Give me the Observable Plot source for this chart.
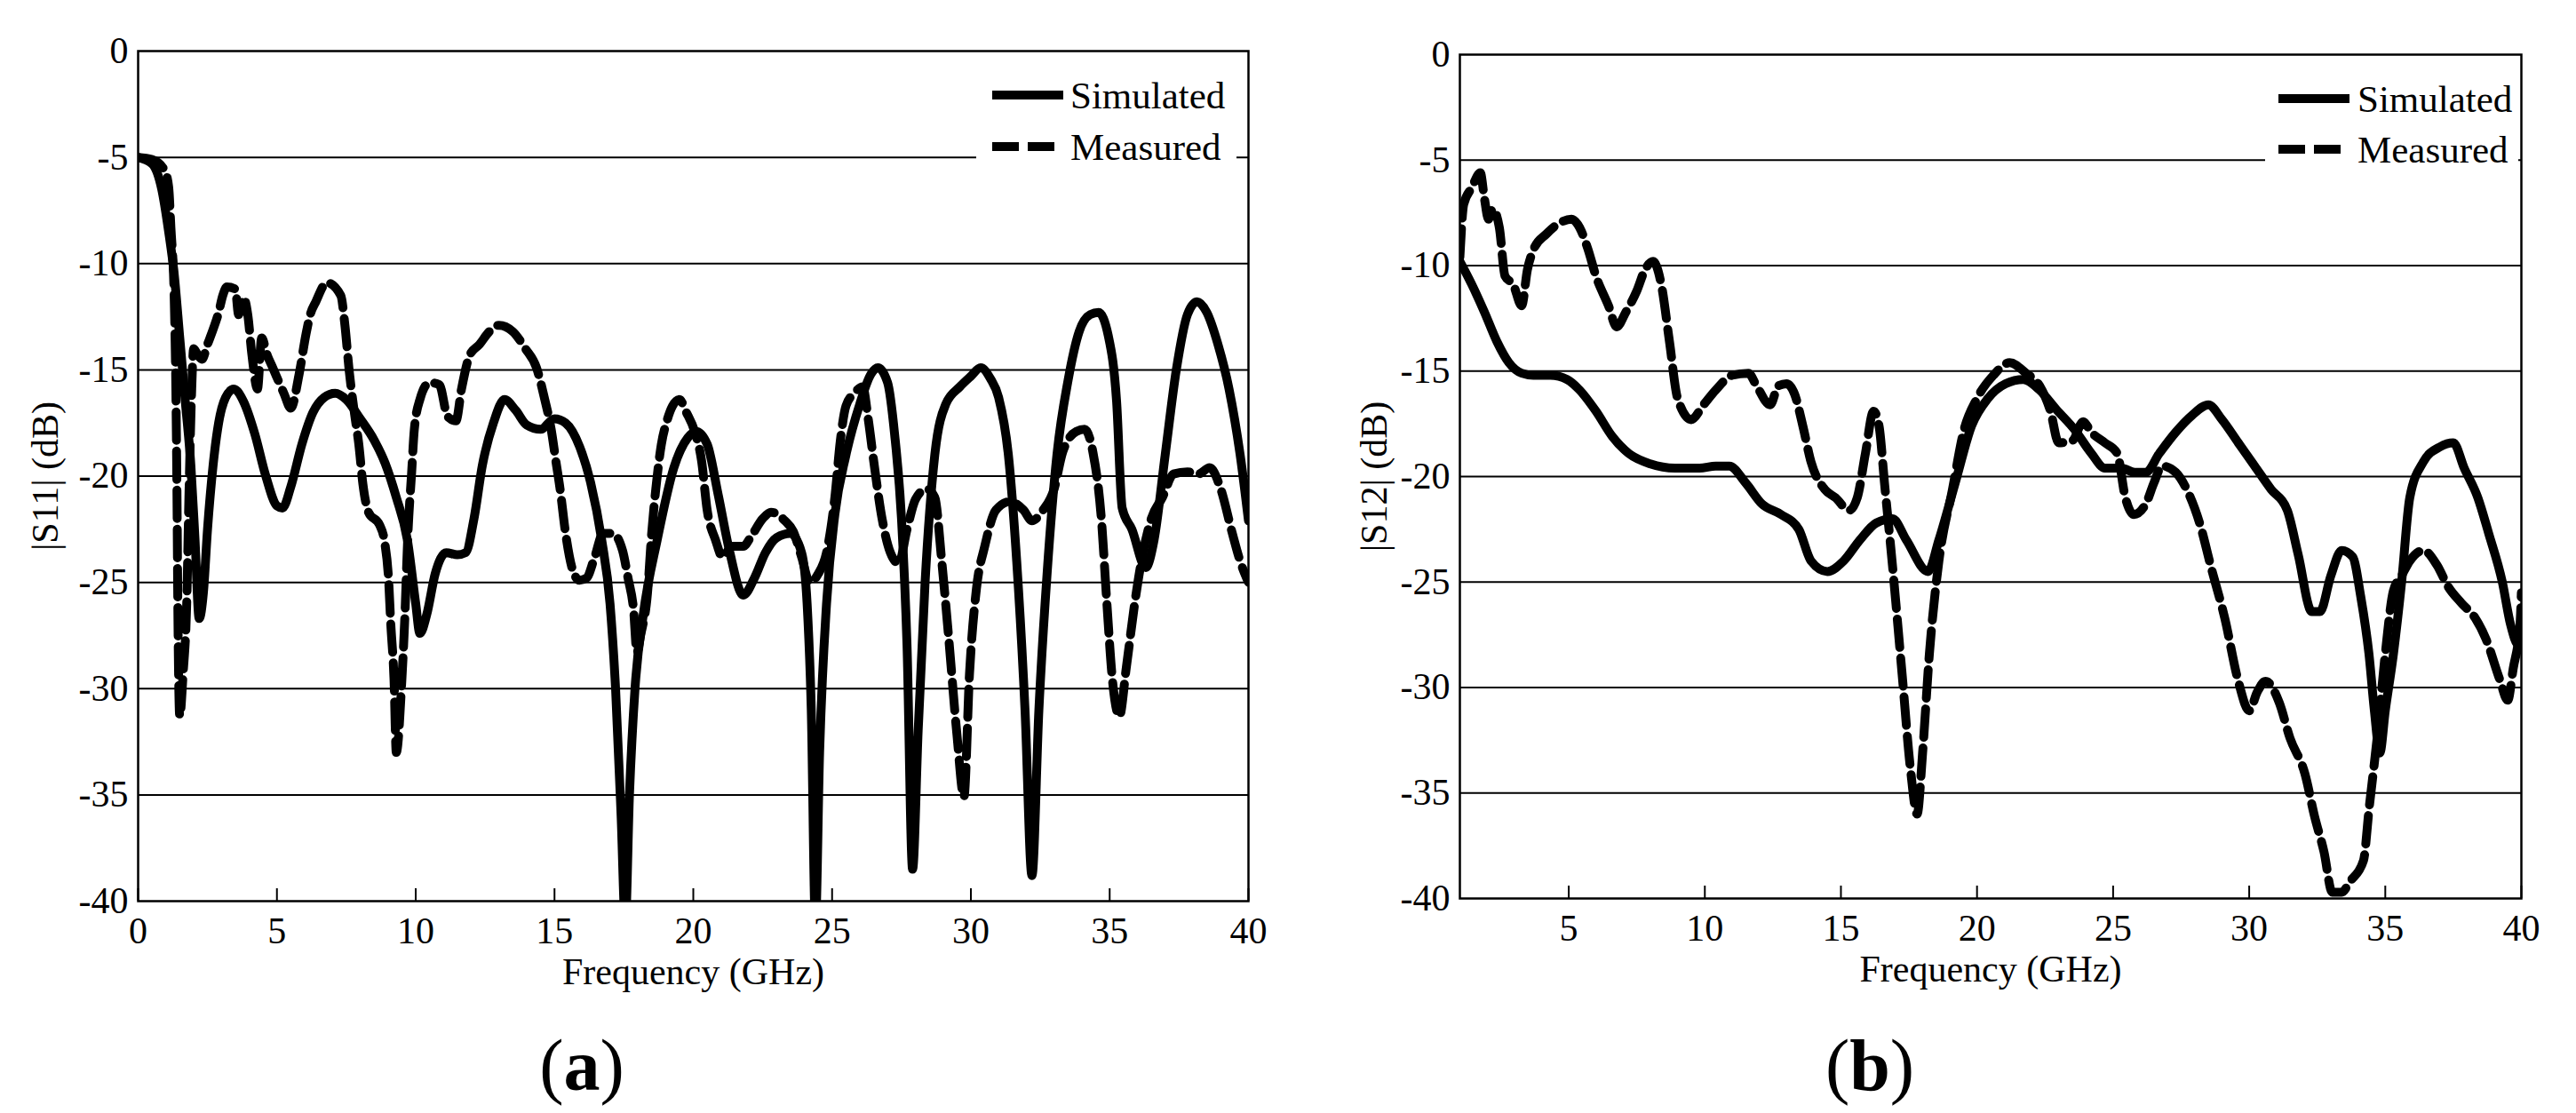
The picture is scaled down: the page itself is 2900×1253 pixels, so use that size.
<!DOCTYPE html>
<html>
<head>
<meta charset="utf-8">
<script src="https://cdn.jsdelivr.net/npm/d3@7"></script>
<script src="https://cdn.jsdelivr.net/npm/@observablehq/plot@0.6"></script>
<style>
  html, body { margin: 0; padding: 0; background: #fff; }
  #root { position: relative; width: 2900px; height: 1253px; overflow: hidden; background: #fff;
          font-family: "Liberation Serif", "Times New Roman", serif; color: #000; }
  #root svg, #root svg text { font-family: "Liberation Serif", "Times New Roman", serif !important; }
  .panel { position: absolute; top: 0; }
  .legend { position: absolute; background: #fff; }
  .legend svg { overflow: visible; }
  .cap { position: absolute; transform: translate(-50%, -50%); font-size: 82px; white-space: nowrap;
         font-family: "Liberation Serif", "Times New Roman", serif; }
</style>
</head>
<body>
<div id="root"></div>
<script>
// ---------- data ----------
const xTicksA = [0, 5, 10, 15, 20, 25, 30, 35, 40];
const xTicksB = [5, 10, 15, 20, 25, 30, 35, 40];
const yTicks = [0, -5, -10, -15, -20, -25, -30, -35, -40];
const gridLevels = [-5, -10, -15, -20, -25, -30, -35];
const seriesNames = ["Simulated", "Measured"];
const panelLabels = ["a", "b"];
const yLabels = ["|S11| (dB)", "|S12| (dB)"];
const xLabel = "Frequency (GHz)";

// (a) |S11| simulated
const s11SimF = [0,0.5,0.85,1.1,1.3,1.5,1.7,1.9,2.05,2.2,2.35,2.5,2.7,2.9,3.15,3.45,3.8,4.2,4.6,5.0,5.2,5.5,5.9,6.3,6.7,7.1,7.5,8.0,8.5,8.9,9.3,9.7,10.0,10.15,10.4,10.7,11.1,11.5,11.8,12.1,12.4,12.8,13.2,13.6,14.0,14.5,15.0,15.4,15.9,16.3,16.7,17.0,17.2,17.4,17.55,17.7,17.9,18.2,18.7,19.3,19.8,20.1,20.5,20.9,21.3,21.8,22.2,22.6,23.0,23.5,23.9,24.1,24.25,24.4,24.55,24.8,25.1,25.5,26.0,26.4,26.65,27.0,27.25,27.5,27.7,27.9,28.1,28.35,28.7,29.1,29.6,30.0,30.35,30.7,31.0,31.35,31.65,31.95,32.2,32.45,32.75,33.1,33.5,33.9,34.3,34.6,34.95,35.25,35.45,35.8,36.3,36.6,37.0,37.4,37.8,38.15,38.5,38.9,39.3,39.7,40];
const s11SimV = [-5,-5.3,-6.5,-8.5,-10.5,-13.5,-16.5,-19.5,-23,-26.7,-25.5,-22.5,-19.5,-17.5,-16.3,-15.9,-16.5,-18.0,-20.0,-21.4,-21.5,-20.5,-18.5,-17.0,-16.3,-16.1,-16.4,-17.3,-18.3,-19.4,-21,-23,-26,-27.4,-26.5,-24.6,-23.6,-23.7,-23.6,-22,-19.5,-17.5,-16.4,-16.9,-17.6,-17.8,-17.3,-17.5,-18.6,-20.3,-23,-26,-30,-36,-41,-35,-30,-26.5,-23,-19.6,-18.2,-17.9,-18.5,-20.9,-23.5,-25.6,-24.8,-23.6,-22.9,-22.7,-23.6,-26,-31,-41,-33,-26,-21.8,-19,-16.6,-15.2,-14.9,-15.6,-18,-22,-28,-38.5,-32,-25,-19,-16.6,-15.8,-15.3,-14.9,-15.4,-16.3,-19,-24,-31,-38.8,-31,-24.5,-19,-15.5,-13.2,-12.4,-12.3,-13.4,-16.5,-21.5,-22.5,-24.3,-23,-19,-15,-12.4,-11.8,-12.3,-13.8,-15.9,-19,-22.1];

// (a) |S11| measured
const s11MeasF = [0,0.5,0.95,1.1,1.18,1.3,1.36,1.4,1.43,1.5,1.62,1.75,1.83,1.92,2.0,2.15,2.3,2.5,2.7,2.9,3.05,3.2,3.5,3.62,3.8,3.95,4.1,4.3,4.45,4.65,4.85,5.25,5.5,5.8,6.05,6.2,6.4,6.8,7.3,7.45,7.6,7.8,7.95,8.1,8.3,8.7,8.88,9.02,9.1,9.22,9.3,9.5,9.6,9.72,9.85,9.95,10.15,10.5,10.85,11.15,11.45,11.65,11.95,12.3,12.65,13.0,13.5,13.95,14.35,14.65,14.88,15.05,15.2,15.4,15.65,15.9,16.15,16.45,16.75,17.1,17.45,17.65,17.85,17.97,18.1,18.35,18.5,18.65,18.85,19.05,19.25,19.5,19.75,20.05,20.3,20.5,20.8,21.05,21.4,21.8,22.1,22.5,22.8,23.3,23.6,23.9,24.2,24.5,24.8,25.1,25.3,25.5,25.8,26.1,26.3,26.5,26.8,27.1,27.4,27.7,28.0,28.4,28.7,28.95,29.2,29.5,29.75,29.95,30.2,30.5,30.9,31.4,31.9,32.2,32.6,33.0,33.3,33.8,34.1,34.4,34.7,34.9,35.1,35.35,35.6,35.9,36.2,36.5,36.9,37.3,37.8,38.2,38.6,39.0,39.4,39.7,40];
const s11MeasV = [-5.0,-5.1,-5.6,-6.4,-8.3,-11.6,-15.9,-20.9,-26,-31.3,-29.3,-26,-21,-16.3,-14.0,-14.3,-14.5,-13.8,-13.1,-12.3,-11.5,-11.1,-11.2,-12.4,-11.6,-12.4,-14.3,-15.9,-13.5,-14.3,-14.9,-16.1,-16.8,-15.2,-13.3,-12.4,-11.8,-10.9,-11.5,-12.9,-15.0,-17.1,-18.5,-20.4,-21.7,-22.3,-23.1,-24.8,-26.9,-29.6,-33.0,-29.6,-26.9,-22.7,-19.9,-17.8,-16.4,-15.6,-15.7,-17.2,-17.4,-15.9,-14.3,-13.8,-13.2,-12.9,-13.2,-14.0,-14.9,-16.4,-17.8,-19.3,-20.6,-22.7,-24.4,-24.9,-24.8,-23.8,-22.7,-22.7,-23.5,-24.8,-26.3,-28.3,-27.5,-25.5,-22.7,-20.6,-18.5,-17.4,-16.7,-16.4,-17.0,-17.9,-19.3,-21.6,-23,-23.8,-23.3,-23.3,-22.8,-22,-21.7,-22.1,-22.6,-23.8,-25,-24.6,-23.6,-21,-18.3,-16.7,-16.1,-15.8,-17.3,-19.3,-22,-23.6,-24.1,-22.5,-21.1,-20.6,-21,-24,-27.6,-32.2,-35.1,-29.3,-25.3,-23.3,-21.6,-21.2,-21.6,-22.1,-21.6,-20.6,-18.9,-17.9,-17.8,-18.9,-22,-26,-29.6,-31.3,-29,-26,-23.6,-22,-21,-19.9,-19.8,-19.9,-19.6,-20.6,-22.6,-24,-25];

// (b) |S12| simulated
const s12SimF = [1.0,1.44,1.9,2.36,2.8,3.27,3.7,4.33,4.94,5.4,6.0,6.6,7.2,8.0,8.9,9.8,10.4,10.9,11.5,12.1,12.8,13.45,13.9,14.5,15.1,15.7,16.3,16.9,17.4,18.2,18.6,19.2,19.8,20.4,21.05,21.7,22.3,22.9,23.6,24.2,24.7,25.3,25.8,26.2,26.7,27.3,27.9,28.5,29.0,29.6,30.2,30.8,31.4,31.8,32.3,32.6,33.0,33.4,33.8,34.1,34.4,34.6,34.8,35.0,35.3,35.6,35.9,36.4,37.0,37.5,37.9,38.4,38.8,39.3,39.6,39.9,40];
const s12SimV = [-9.8,-10.9,-12.2,-13.6,-14.6,-15.1,-15.2,-15.2,-15.4,-15.9,-16.9,-18.1,-18.9,-19.4,-19.6,-19.6,-19.5,-19.5,-20.3,-21.3,-21.8,-22.5,-24.0,-24.5,-24.0,-23.0,-22.2,-22.0,-23.0,-24.5,-23.0,-20.3,-17.6,-16.3,-15.6,-15.4,-15.9,-16.8,-17.8,-18.9,-19.6,-19.6,-19.8,-19.8,-18.9,-17.9,-17.1,-16.6,-17.3,-18.4,-19.5,-20.6,-21.6,-23.7,-26.4,-26.4,-24.7,-23.5,-23.8,-25.7,-28.4,-31.1,-33.1,-31.1,-28.4,-25,-21,-19.3,-18.6,-18.4,-19.6,-21,-22.7,-25,-27,-28,-27.5];

// (b) |S12| measured
const s12MeasF = [1.0,1.14,1.44,1.75,1.9,2.05,2.2,2.45,2.66,2.96,3.27,3.48,3.72,4.18,4.64,5.1,5.4,5.7,6.0,6.46,6.76,7.1,7.5,7.8,8.1,8.4,8.7,9.0,9.5,9.95,10.4,11.0,11.6,11.9,12.4,12.7,13.0,13.3,13.6,13.9,14.4,14.8,15.3,15.6,15.9,16.2,16.4,16.6,16.9,17.25,17.55,17.8,18.0,18.25,18.6,19.1,19.5,20.0,20.6,21.2,21.8,22.3,22.7,23.0,23.5,23.9,24.2,24.7,25.15,25.45,25.76,26.2,26.5,26.8,27.3,27.7,28.2,28.6,29.1,29.6,30.0,30.3,30.6,31.1,31.5,32.05,32.4,32.75,33.05,33.4,33.7,34.2,34.4,34.7,35.0,35.3,35.6,35.9,36.4,36.9,37.3,37.8,38.3,38.7,39.2,39.5,39.7,39.95,40];
const s12MeasV = [-9.6,-7.1,-6.3,-5.6,-6.8,-7.8,-7.3,-8.2,-10.5,-10.9,-11.9,-10.2,-9.2,-8.5,-8.0,-7.8,-8.2,-9.2,-10.5,-11.9,-12.9,-12.2,-11.2,-10.2,-9.8,-10.9,-13.6,-16.3,-17.3,-16.6,-15.9,-15.2,-15.1,-15.7,-16.6,-15.7,-15.6,-16.1,-17.6,-19.3,-20.6,-21.0,-21.6,-21.0,-18.9,-16.9,-17.6,-20.3,-24.3,-29.4,-33.8,-36.0,-33.1,-28.4,-24.0,-20.6,-17.9,-16.3,-15.2,-14.6,-15.1,-15.7,-16.9,-18.4,-18.3,-17.4,-17.9,-18.4,-18.9,-21.0,-21.8,-21.3,-20.3,-19.5,-19.8,-20.6,-22.3,-24.3,-26.7,-29.7,-31.1,-30.2,-29.7,-30.7,-32.4,-34.1,-36.1,-37.8,-39.7,-39.7,-39.2,-38.2,-35.8,-32.4,-28.4,-25.4,-24.7,-24.0,-23.5,-24.2,-25.2,-26.0,-26.7,-27.7,-29.6,-30.6,-29.1,-27.0,-25.5];

// ---------- drawing ----------
const FONT = '"Liberation Serif", "Times New Roman", serif';
const toRows = (fs, vs) => fs.map((f, i) => ({f, v: vs[i]}));
const fmt = d => String(d);

function panel({left, marginLeft, marginRight, marginTop, marginBottom, xDomain, xTicks,
                sim, meas, yLabel, yLabelOffset, legend, cap}) {
  const chart = Plot.plot({
    width: 1450,
    height: 1253,
    marginLeft, marginRight, marginTop, marginBottom,
    style: {fontFamily: FONT, fontSize: "42px", color: "black", background: "transparent", overflow: "visible"},
    x: {domain: xDomain},
    y: {domain: [-40, 0]},
    marks: [
      Plot.ruleY(gridLevels, {stroke: "black", strokeWidth: 2}),
      Plot.line(sim, {x: "f", y: "v", stroke: "black", strokeWidth: 10, curve: "monotone-x", clip: true, strokeLinejoin: "round"}),
      Plot.line(meas, {x: "f", y: "v", stroke: "black", strokeWidth: 10, strokeDasharray: "32,12", curve: "monotone-x", clip: true, strokeLinejoin: "round"}),
      Plot.frame({stroke: "black", strokeWidth: 2.5}),
      Plot.axisX({ticks: xTicks, tickSize: -14, tickFormat: () => "", strokeWidth: 2, label: null}),
      Plot.axisX({ticks: xTicks, tickSize: 0, tickPadding: 18, tickFormat: fmt, fontSize: 42, fontFamily: FONT,
                  label: xLabel, labelAnchor: "center", labelOffset: 93, labelArrow: "none"}),
      Plot.axisY({ticks: yTicks, tickSize: 0, tickPadding: 11, tickFormat: fmt, fontSize: 42, fontFamily: FONT,
                  label: yLabel, labelAnchor: "center", labelOffset: yLabelOffset, labelArrow: "none"})
    ]
  });
  // force the serif face on every text node of the chart
  d3.select(chart).selectAll("text, tspan").style("font-family", FONT);
  const wrap = document.createElement("div");
  wrap.className = "panel";
  wrap.style.left = left + "px";
  wrap.appendChild(chart);
  document.getElementById("root").appendChild(wrap);

  // legend (overlay, white box)
  const lg = document.createElement("div");
  lg.className = "legend";
  lg.style.left = legend.x + "px";
  lg.style.top = legend.y + "px";
  lg.style.width = legend.w + "px";
  lg.style.height = legend.h + "px";
  const svg = d3.create("svg").attr("width", legend.w).attr("height", legend.h)
    .style("font-family", FONT).style("font-size", "43px");
  const rows = seriesNames.map((name, i) => ({name, dash: i === 0 ? null : "30,10", cy: legend.rows[i]}));
  svg.selectAll("line").data(rows).join("line")
    .attr("x1", legend.lx1).attr("x2", legend.lx2)
    .attr("y1", d => d.cy).attr("y2", d => d.cy)
    .attr("stroke", "black").attr("stroke-width", 10)
    .attr("stroke-dasharray", d => d.dash);
  svg.selectAll("text").data(rows).join("text")
    .attr("x", legend.tx).attr("y", d => d.cy).attr("dy", "0.34em")
    .text(d => d.name);
  lg.appendChild(svg.node());
  document.getElementById("root").appendChild(lg);

  const c = document.createElement("div");
  c.className = "cap";
  c.style.left = cap.x + "px";
  c.style.top = cap.y + "px";
  c.innerHTML = "(<b>" + cap.label + "</b>)";
  document.getElementById("root").appendChild(c);
}

panel({
  left: 0, marginLeft: 155, marginRight: 45, marginTop: 57, marginBottom: 239,
  xDomain: [0, 40], xTicks: xTicksA,
  sim: toRows(s11SimF, s11SimV), meas: toRows(s11MeasF, s11MeasV),
  yLabel: yLabels[0], yLabelOffset: 120,
  legend: {x: 1099, y: 66, w: 293, h: 122, lx1: 18, lx2: 98, tx: 106, rows: [41, 99]},
  cap: {x: 655, y: 1200, label: panelLabels[0]}
});

panel({
  left: 1450, marginLeft: 193, marginRight: 62, marginTop: 61, marginBottom: 242,
  xDomain: [1, 40], xTicks: xTicksB,
  sim: toRows(s12SimF, s12SimV), meas: toRows(s12MeasF, s12MeasV),
  yLabel: yLabels[1], yLabelOffset: 112,
  legend: {x: 2550, y: 70, w: 285, h: 122, lx1: 15, lx2: 95, tx: 104, rows: [41, 98]},
  cap: {x: 2105, y: 1200, label: panelLabels[1]}
});
</script>
</body>
</html>
